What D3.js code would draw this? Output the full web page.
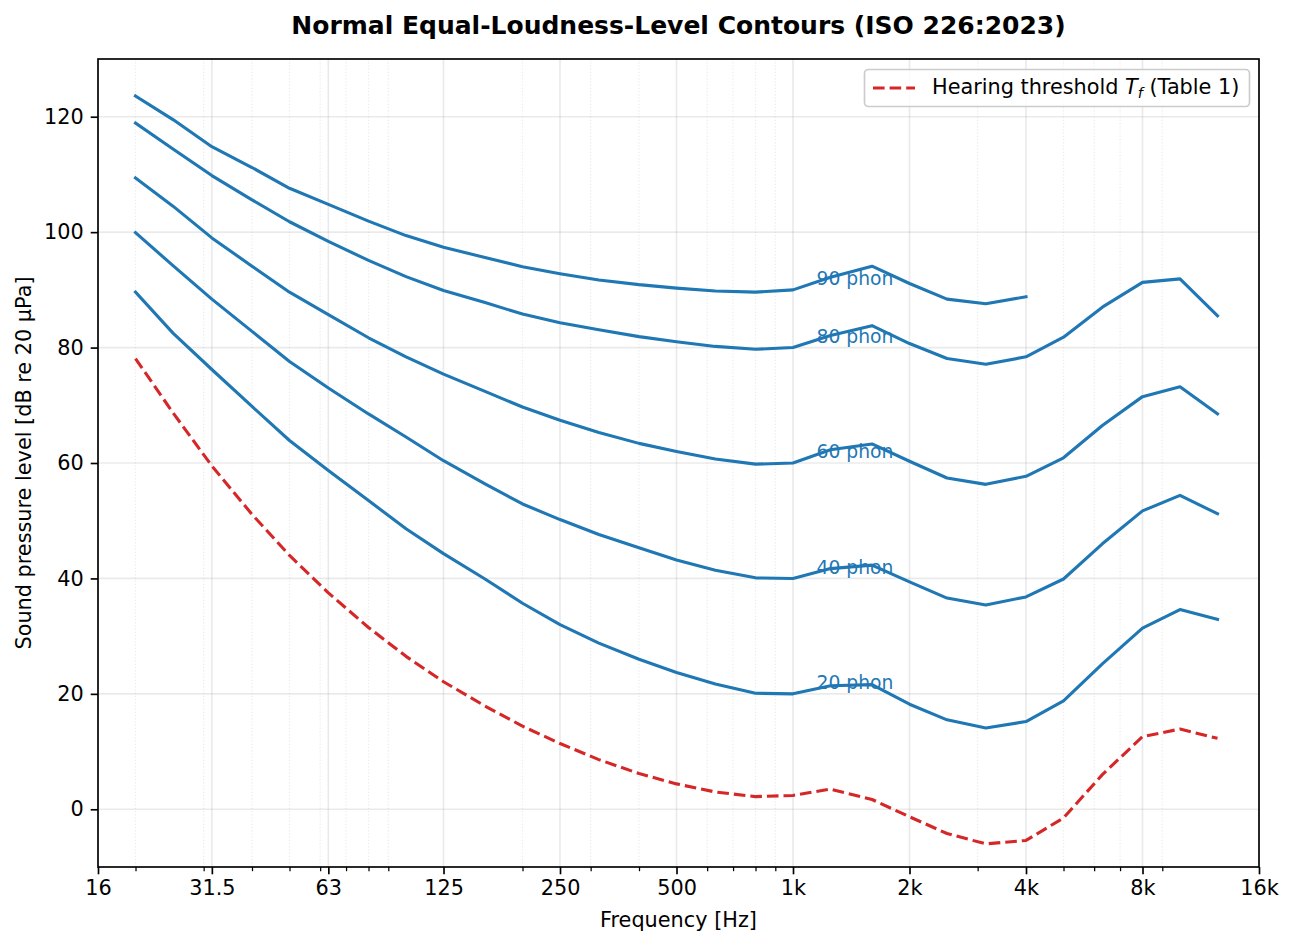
<!DOCTYPE html>
<html>
<head>
<meta charset="utf-8">
<script src="https://cdn.jsdelivr.net/npm/d3@7"></script>
<style>
  body { margin: 0; background: #fff; }
  svg { font-family: "DejaVu Sans", sans-serif; }
</style>
</head>
<body>
<div id="chart"></div>
<script>
// One-third-octave frequencies [Hz]
var freqs = [20, 25, 31.5, 40, 50, 63, 80, 100, 125, 160, 200, 250, 315, 400, 500,
  630, 800, 1000, 1250, 1600, 2000, 2500, 3150, 4000, 5000, 6300, 8000, 10000, 12500];

// Hearing threshold Tf (Table 1)
var threshold = [78.1, 68.7, 59.5, 51.1, 44.0, 37.5, 31.5, 26.5, 22.1, 17.9, 14.4, 11.4, 8.6, 6.2, 4.4,
  3.0, 2.2, 2.4, 3.5, 1.7, -1.3, -4.2, -6.0, -5.4, -1.5, 6.0, 12.6, 13.9, 12.3];

// Contour levels
var phon20 = [89.6, 82.5, 76.2, 69.8, 63.9, 58.7, 53.5, 48.6, 44.3, 39.9, 35.7, 32.0, 28.8, 26.0, 23.7,
  21.7, 20.1, 20.0, 21.4, 21.6, 18.2, 15.5, 14.1, 15.2, 18.8, 25.2, 31.4, 34.6, 32.9];
var phon40 = [99.9, 94.2, 88.4, 82.8, 77.6, 73.0, 68.5, 64.5, 60.4, 56.4, 52.9, 50.2, 47.6, 45.3, 43.2,
  41.4, 40.1, 40.0, 41.7, 42.3, 39.4, 36.6, 35.4, 36.8, 39.9, 46.0, 51.7, 54.4, 51.2];
var phon60 = [109.4, 104.5, 99.0, 94.1, 89.6, 85.7, 81.7, 78.4, 75.4, 72.4, 69.7, 67.4, 65.3, 63.4, 62.0,
  60.7, 59.8, 60.0, 62.3, 63.3, 60.3, 57.4, 56.3, 57.7, 60.9, 66.5, 71.5, 73.2, 68.5];
var phon80 = [118.9, 114.4, 109.8, 105.6, 101.8, 98.4, 95.1, 92.3, 89.9, 87.8, 85.8, 84.3, 83.1, 81.9, 81.0,
  80.2, 79.7, 80.0, 82.1, 83.8, 80.7, 78.1, 77.1, 78.4, 81.8, 87.0, 91.3, 91.9, 85.5];
// 90 phon only goes up to 4 kHz
var phon90 = [123.6, 119.5, 114.8, 111.2, 107.6, 104.8, 101.9, 99.4, 97.4, 95.6, 94.0, 92.8, 91.7, 90.9, 90.3,
  89.8, 89.6, 90.0, 92.2, 94.1, 91.1, 88.4, 87.6, 88.8];

var phonLevels = [20, 40, 60, 80, 90];
var phonSeries = [phon20, phon40, phon60, phon80, phon90];

// Axis ticks
var xMajorTicks = [16, 31.5, 63, 125, 250, 500, 1000, 2000, 4000, 8000, 16000];
var xMajorLabels = ["16", "31.5", "63", "125", "250", "500", "1k", "2k", "4k", "8k", "16k"];
var xMinorTicks = [20, 30, 40, 50, 60, 70, 80, 90, 200, 300, 400, 600, 700, 800, 900,
  3000, 5000, 6000, 7000, 9000];
var yTicks = [0, 20, 40, 60, 80, 100, 120];

// SVG area
var svgWidth = 1294;
var svgHeight = 947;
var margin = { top: 59, right: 35, bottom: 80, left: 98 };
var chartWidth = svgWidth - margin.left - margin.right;
var chartHeight = svgHeight - margin.top - margin.bottom;

var blue = "#1f77b4";
var red = "#d62728";

var svg = d3.select("#chart")
  .append("svg")
  .attr("width", svgWidth)
  .attr("height", svgHeight);

var chartGroup = svg.append("g")
  .attr("transform", `translate(${margin.left}, ${margin.top})`);

var xScale = d3.scaleLog().domain([16, 16000]).range([0, chartWidth]);
var yScale = d3.scaleLinear().domain([-10, 130]).range([chartHeight, 0]);

// grid: minor dotted, major solid
chartGroup.append("g").selectAll("line")
  .data(xMinorTicks)
  .enter()
  .append("line")
  .attr("x1", d => xScale(d)).attr("x2", d => xScale(d))
  .attr("y1", 0).attr("y2", chartHeight)
  .attr("stroke", "#b0b0b0")
  .attr("stroke-opacity", 0.25)
  .attr("stroke-width", 1.2)
  .attr("stroke-dasharray", "1.2,2");

chartGroup.append("g").selectAll("line")
  .data(xMajorTicks)
  .enter()
  .append("line")
  .attr("x1", d => xScale(d)).attr("x2", d => xScale(d))
  .attr("y1", 0).attr("y2", chartHeight)
  .attr("stroke", "#b0b0b0")
  .attr("stroke-opacity", 0.27)
  .attr("stroke-width", 1.67);

chartGroup.append("g").selectAll("line")
  .data(yTicks)
  .enter()
  .append("line")
  .attr("x1", 0).attr("x2", chartWidth)
  .attr("y1", d => yScale(d)).attr("y2", d => yScale(d))
  .attr("stroke", "#b0b0b0")
  .attr("stroke-opacity", 0.27)
  .attr("stroke-width", 1.67);

// curves
var line = d3.line()
  .x(d => xScale(d[0]))
  .y(d => yScale(d[1]));

phonSeries.forEach(function(series) {
  chartGroup.append("path")
    .datum(series.map((v, i) => [freqs[i], v]))
    .attr("d", line)
    .attr("fill", "none")
    .attr("stroke", blue)
    .attr("stroke-width", 3.1)
    .attr("stroke-linejoin", "round")
    .attr("stroke-linecap", "square");
});

chartGroup.append("path")
  .datum(threshold.map((v, i) => [freqs[i], v]))
  .attr("d", line)
  .attr("fill", "none")
  .attr("stroke", red)
  .attr("stroke-width", 3.1)
  .attr("stroke-linejoin", "round")
  .attr("stroke-dasharray", "11.6,5");

// phon labels
chartGroup.append("g").selectAll("text")
  .data(phonLevels)
  .enter()
  .append("text")
  .attr("x", xScale(1150))
  .attr("y", d => yScale(d + 2))
  .attr("dy", "0.36em")
  .attr("fill", blue)
  .attr("font-size", "18.75px")
  .text(d => d + " phon");

// axes
var bottomAxis = d3.axisBottom(xScale)
  .tickValues(xMajorTicks)
  .tickFormat((d, i) => xMajorLabels[i])
  .tickSize(7.3)
  .tickPadding(5.5);

var minorAxis = d3.axisBottom(xScale)
  .tickValues(xMinorTicks)
  .tickFormat("")
  .tickSize(4.2);

var leftAxis = d3.axisLeft(yScale)
  .tickValues(yTicks)
  .tickSize(7.3)
  .tickPadding(7);

var xAxis = chartGroup.append("g")
  .attr("transform", `translate(0, ${chartHeight})`)
  .call(bottomAxis);
xAxis.select(".domain").remove();
xAxis.selectAll("line").attr("stroke-width", 1.67);
xAxis.selectAll("text").attr("font-size", "20.8px").attr("fill", "#000")
  .attr("font-family", "DejaVu Sans");

var xMinor = chartGroup.append("g")
  .attr("transform", `translate(0, ${chartHeight})`)
  .call(minorAxis);
xMinor.select(".domain").remove();
xMinor.selectAll("line").attr("stroke-width", 1.25);

var yAxis = chartGroup.append("g").call(leftAxis);
yAxis.select(".domain").remove();
yAxis.selectAll("line").attr("stroke-width", 1.67);
yAxis.selectAll("text").attr("font-size", "20.8px").attr("fill", "#000")
  .attr("font-family", "DejaVu Sans");

// frame
chartGroup.append("rect")
  .attr("x", 0).attr("y", 0)
  .attr("width", chartWidth).attr("height", chartHeight)
  .attr("fill", "none")
  .attr("stroke", "#000")
  .attr("stroke-width", 1.67);

// axis labels and title
svg.append("text")
  .attr("x", margin.left + chartWidth / 2)
  .attr("y", 927)
  .attr("text-anchor", "middle")
  .attr("font-size", "20.8px")
  .text("Frequency [Hz]");

svg.append("text")
  .attr("transform", `translate(31, ${margin.top + chartHeight / 2}) rotate(-90)`)
  .attr("text-anchor", "middle")
  .attr("font-size", "20.8px")
  .text("Sound pressure level [dB re 20 μPa]");

svg.append("text")
  .attr("x", margin.left + chartWidth / 2)
  .attr("y", 34)
  .attr("text-anchor", "middle")
  .attr("font-size", "25px")
  .attr("font-weight", "bold")
  .text("Normal Equal-Loudness-Level Contours (ISO 226:2023)");

// legend
var legend = svg.append("g");
legend.append("rect")
  .attr("x", 864.5).attr("y", 69.5)
  .attr("width", 385).attr("height", 37)
  .attr("rx", 4)
  .attr("fill", "#fff")
  .attr("fill-opacity", 0.8)
  .attr("stroke", "#cccccc")
  .attr("stroke-width", 1.67);
legend.append("line")
  .attr("x1", 873).attr("x2", 915)
  .attr("y1", 88).attr("y2", 88)
  .attr("stroke", red)
  .attr("stroke-width", 3.1)
  .attr("stroke-dasharray", "11.6,5");
var legendText = legend.append("text")
  .attr("x", 932)
  .attr("y", 94)
  .attr("font-size", "20.8px");
legendText.append("tspan").text("Hearing threshold ");
legendText.append("tspan").attr("font-style", "italic").text("T");
legendText.append("tspan").attr("font-style", "italic").attr("font-size", "14.5px")
  .attr("dy", "4").text("f");
legendText.append("tspan").attr("dy", "-4").text(" (Table 1)");
</script>
</body>
</html>
